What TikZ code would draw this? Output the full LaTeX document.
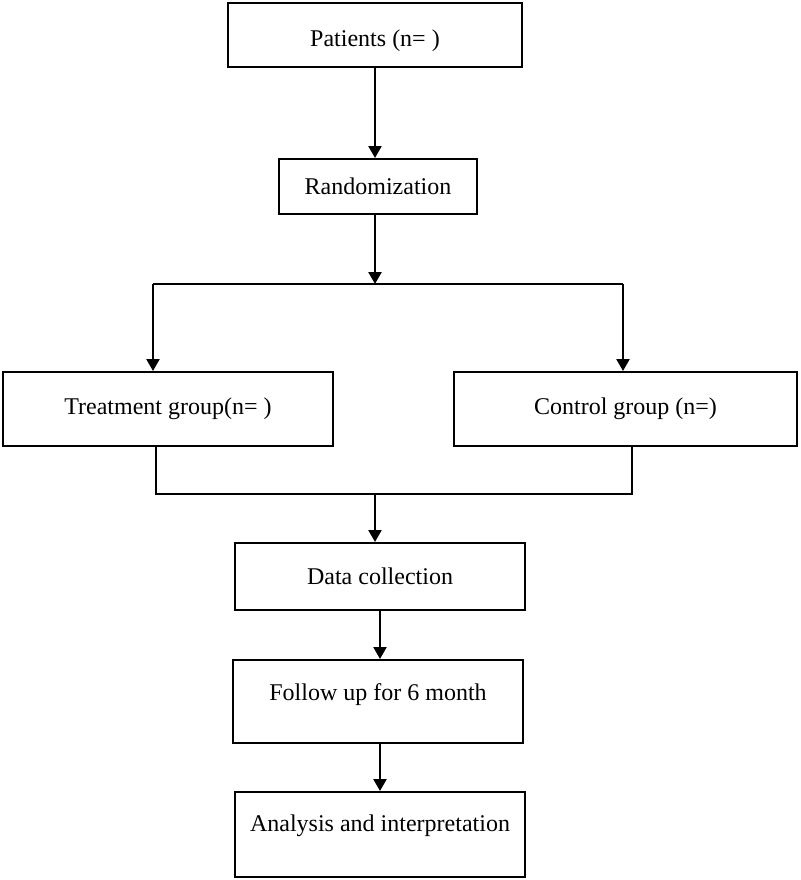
\documentclass[tikz,border=0pt]{standalone}
\usepackage{fontspec}
\setmainfont{Liberation Serif}
\usetikzlibrary{arrows.meta}

\tikzset{
  box/.style={draw, line width=1pt, rectangle, inner sep=0pt, font=\fontsize{12}{14}\selectfont},
  flow/.style={line width=1.2pt, -{Triangle[length=6pt,width=6.5pt]}},
  link/.style={line width=1.2pt}
}

\begin{document}
\begin{tikzpicture}[x=0.5pt,y=-0.5pt]

%%% one unit = one pixel of the 800x880 sketch, y grows downwards
\useasboundingbox (0,0) rectangle (800,880);

% PATIENTS
\node[box, minimum width=147pt, minimum height=32pt, text height=14pt] (pat) at (375,35) {Patients (n= )};

% RANDOMIZATION
\node[box, minimum width=99pt, minimum height=27.5pt] (rand) at (378,186.5) {Randomization};

% TWO ARMS
\node[box, minimum width=165pt, minimum height=37pt] (treat) at (168,409) {Treatment group(n= )};
\node[box, minimum width=171.5pt, minimum height=37pt] (ctrl) at (625.5,409) {Control group (n=)};

% DATA
\node[box, minimum width=145pt, minimum height=33.5pt] (data) at (380,576.5) {Data collection};

% FOLLOW UP
\node[box, minimum width=145pt, minimum height=41.5pt, text depth=9pt] (follow) at (378,701.5) {Follow up for 6 month};

% ANALYSIS
\node[box, minimum width=145pt, minimum height=42.5pt, text depth=11pt] (anal) at (380,834.5) {Analysis and interpretation};

%% split after randomization
\coordinate (split) at (375,284);
\coordinate (splitL) at (153,284);
\coordinate (splitR) at (623,284);
\draw[flow] (pat.south) -- (pat.south |- rand.north);
\draw[flow] (split |- rand.south) -- (split);
\draw[link] (splitL) -- (splitR);
\draw[flow] (splitL) -- (splitL |- treat.north);
\draw[flow] (splitR) -- (splitR |- ctrl.north);

%% join of both arms
\coordinate (join) at (375,494);
\coordinate (joinL) at (156,494);
\coordinate (joinR) at (632,494);
\draw[link] (joinL |- treat.south) -- (joinL) -- (joinR) -- (joinR |- ctrl.south);
\draw[flow] (join) -- (join |- data.north);

%% down to the end
\draw[flow] (data.south) -- (data.south |- follow.north);
\draw[flow] (data.south |- follow.south) -- (data.south |- anal.north);
\end{tikzpicture}
\end{document}
